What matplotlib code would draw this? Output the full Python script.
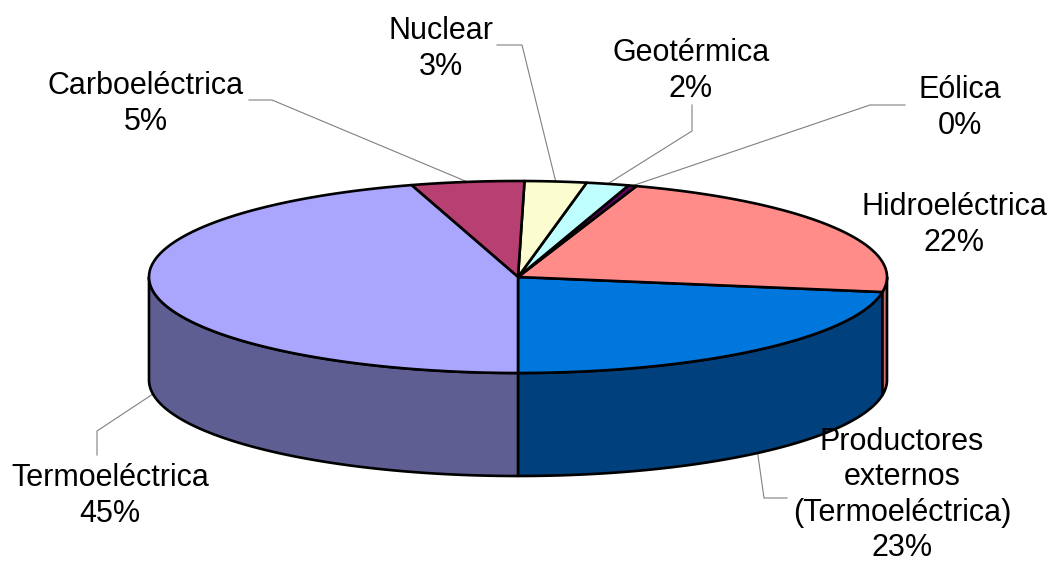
import numpy as np
import matplotlib
matplotlib.use("Agg")
import matplotlib.pyplot as plt
from matplotlib.patches import Polygon

plt.rcParams['font.family'] = ['Liberation Sans', 'DejaVu Sans']

# Data: counter-clockwise from the bottom of the pie
categories = ["Productores\nexternos\n(Termoeléctrica)", "Hidroeléctrica", "Eólica",
              "Geotérmica", "Nuclear", "Carboeléctrica", "Termoeléctrica"]
values = [22.5, 22.3, 0.36, 1.86, 2.7, 4.94, 45.34]
percent_labels = ["23%", "22%", "0%", "2%", "3%", "5%", "45%"]
top_colors = ["#0077DD", "#FF8C88", "#660066", "#BFFFFF", "#FBFDD0", "#B83F72", "#AAA6FE"]
side_colors = ["#00407C", "#C4706C", "#470047", "#85B2B2", "#AFB191", "#802C50", "#5F5E92"]

# Layout in pixels
CX, CY, RX, RY, DEPTH = 518, 277, 369, 96, 103
START = -90.0
label_pos = [(902, 495), (954, 225), (960, 108), (691, 71), (441, 49), (146, 104), (110, 496)]
# leader: elbow points, ending at the label
leaders = [[(764, 498), (787, 498)], [], [(870, 105), (905, 105)], [(692, 131), (692, 105)],
           [(522, 45), (497, 45)], [(272, 100), (249, 100)], [(97, 431), (97, 455)]]
anchor_drop = [True, False, False, False, False, False, True]

fig = plt.figure(figsize=(10.49, 5.61), dpi=100)
ax = fig.add_axes([0, 0, 1, 1])
ax.set_xlim(0, 1049)
ax.set_ylim(561, 0)
ax.axis("off")


def ell(deg, drop=0.0):
    t = np.radians(deg)
    return np.column_stack([CX + RX * np.cos(t), CY - RY * np.sin(t) + drop])


v = np.array(values, dtype=float)
edges = START + np.concatenate([[0], np.cumsum(v / v.sum() * 360)])
LW = 1.9

# side walls (only the part facing the viewer: 180..360 degrees)
for i in range(len(v)):
    for shift in (0, -360, 360):
        a = max(edges[i] + shift, -180)
        b = min(edges[i + 1] + shift, 0)
        if b > a:
            t = np.linspace(a, b, 120)
            pts = np.vstack([ell(t), ell(t[::-1], DEPTH)])
            ax.add_patch(Polygon(pts, closed=True, fc=side_colors[i], ec="black", lw=LW,
                                 joinstyle="round", zorder=2))

# top face
for i in range(len(v)):
    t = np.linspace(edges[i], edges[i + 1], 160)
    pts = np.vstack([[CX, CY], ell(t)])
    ax.add_patch(Polygon(pts, closed=True, fc=top_colors[i], ec="black", lw=LW,
                         joinstyle="round", zorder=3))

# leaders
for i, elbow in enumerate(leaders):
    if not elbow:
        continue
    mid = (edges[i] + edges[i + 1]) / 2
    p0 = ell(mid, DEPTH if anchor_drop[i] else 0)[0]
    path = np.vstack([p0, elbow])
    ax.plot(path[:, 0], path[:, 1], color="#808080", lw=0.8, zorder=1)

# labels
for name, pct, (x, y) in zip(categories, percent_labels, label_pos):
    ax.text(x, y, f"{name}\n{pct}", ha="center", va="center", fontsize=22,
            color="black", linespacing=1.22, zorder=5)

fig.savefig("out.png", dpi=100)
